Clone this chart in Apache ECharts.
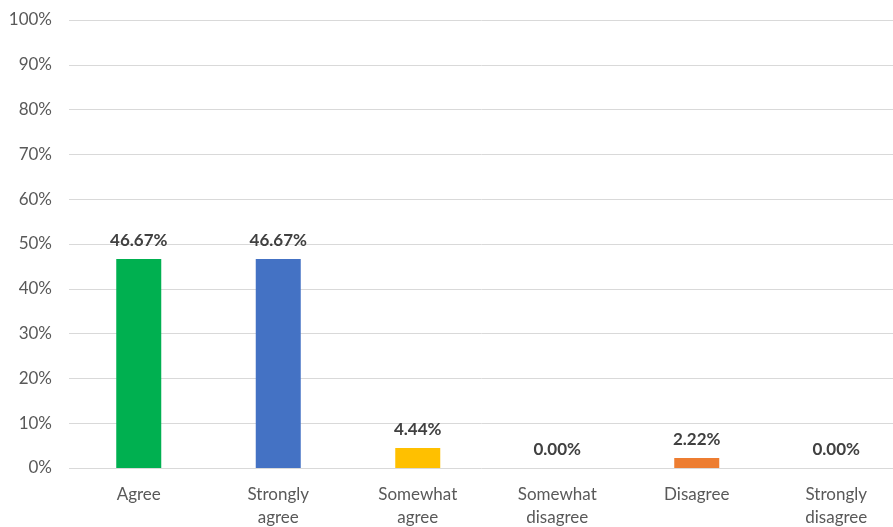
<!DOCTYPE html>
<html>
<head>
<meta charset="utf-8">
<style>
  html, body { margin: 0; padding: 0; background: #ffffff; }
  #chart { width: 893px; height: 527px; }
</style>
<script src="https://cdn.jsdelivr.net/npm/echarts@6/dist/echarts.min.js"></script>
</head>
<body>
<div id="chart"></div>
<script>
// Survey response categories and their shares (%)
const categories = ['Agree', 'Strongly\nagree', 'Somewhat\nagree', 'Somewhat\ndisagree', 'Disagree', 'Strongly\ndisagree'];
const shares = [46.67, 46.67, 4.44, 0.00, 2.22, 0.00];
const barColors = ['#00B050', '#4472C4', '#FFC000', '#A5A5A5', '#ED7D31', '#5B9BD5'];
const yTicks = [0, 10, 20, 30, 40, 50, 60, 70, 80, 90, 100];

const FONT = 'Lato';

const chart = echarts.init(document.getElementById('chart'), null, { renderer: 'canvas' });

chart.setOption({
  animation: false,
  backgroundColor: '#ffffff',
  grid: {
    left: 69, top: 20, right: -13, bottom: 59,
    containLabel: false,
    outerBoundsMode: 'none'
  },
  xAxis: {
    type: 'category',
    data: categories,
    axisLine: { show: false },
    axisTick: { show: false },
    axisLabel: {
      color: '#595959',
      fontFamily: FONT,
      fontSize: 17,
      lineHeight: 23,
      margin: 15,
      interval: 0
    }
  },
  yAxis: {
    type: 'value',
    min: yTicks[0],
    max: yTicks[yTicks.length - 1],
    interval: 10,
    axisLine: { show: false },
    axisTick: { show: false },
    splitLine: { lineStyle: { color: '#D9D9D9', width: 1 } },
    axisLabel: {
      color: '#595959',
      fontFamily: FONT,
      fontSize: 17,
      margin: 17,
      formatter: v => v + '%'
    }
  },
  series: [{
    type: 'bar',
    data: shares.map((v, i) => ({ value: v, itemStyle: { color: barColors[i] } })),
    barWidth: 45,
    label: {
      show: true,
      position: 'top',
      distance: 10,
      color: '#404040',
      fontFamily: FONT,
      fontWeight: 'bold',
      fontSize: 17,
      formatter: p => p.value.toFixed(2) + '%'
    }
  }]
});
</script>
</body>
</html>
